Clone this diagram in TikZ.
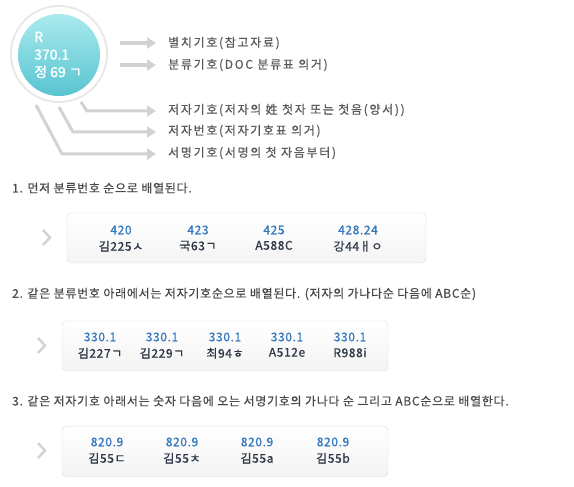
\documentclass[tikz,border=0pt]{standalone}
\usepackage{fontspec}
\setmainfont{Noto Sans CJK KR}
\newfontfamily\krwide[LetterSpace=14,FakeBold=0.6]{Noto Sans CJK KR}
\newfontfamily\krhead[LetterSpace=6,FakeBold=0.4]{Noto Sans CJK KR}
\newfontfamily\krbox[LetterSpace=5,FakeBold=0.8]{Noto Sans CJK KR}
\newfontfamily\krdisc[FakeBold=1.5]{Noto Sans CJK KR}
\usepackage{tikz}
\usetikzlibrary{arrows.meta,positioning,shadings}
\definecolor{txtgray}{RGB}{90,90,90}
\definecolor{numblue}{RGB}{52,120,190}
\definecolor{namedark}{RGB}{45,55,70}
\definecolor{tealtop}{RGB}{170,234,238}
\definecolor{tealbot}{RGB}{88,196,208}
\definecolor{arrgray}{RGB}{210,210,210}

\begin{document}
\begin{tikzpicture}[x=1pt, y=-1pt,
  lbl/.style={anchor=west, inner sep=0pt, font=\krwide\fontsize{12}{14}\selectfont, text=txtgray},
  head/.style={anchor=west, inner sep=0pt, font=\krhead\fontsize{12}{14}\selectfont, text=txtgray!80!black},
  arr/.style={-{Triangle[width=11pt,length=9pt]}, line width=3.5pt, draw=arrgray},
  sorted/.style={draw=gray!30, rounded corners=4pt, top color=white, bottom color=gray!9,
                 minimum width=#1, minimum height=50pt, inner sep=0pt},
  num/.style={inner sep=0pt, font=\krbox\fontsize{12}{14}\selectfont, text=numblue},
  nm/.style={inner sep=0pt, font=\krbox\fontsize{12}{14}\selectfont, text=namedark},
  chev/.style={draw=gray!35, line width=2.5pt}
]
  \useasboundingbox (0,0) rectangle (574,487);

  % call number disc
  \fill[gray!18] (59,54) circle (49);
  \fill[white] (59,54) circle (47);
  \shade[top color=tealtop, bottom color=tealbot] (59,55) circle (41);
  \node[anchor=west, inner sep=0pt, text=white, font=\krdisc\fontsize{14}{17.5}\selectfont, align=left] (callno) at (34,55)
    {R\\370.1\\정 69 ㄱ};

  \coordinate (s1) at (120,43);  \coordinate (e1) at (156,43);
  \coordinate (s2) at (120,65);  \coordinate (e2) at (156,65);
  \coordinate (s3) at (81,102);  \coordinate (k3) at (87,111);  \coordinate (e3) at (156,111);
  \coordinate (s4) at (59,107);  \coordinate (k4) at (73,132);  \coordinate (e4) at (156,132);
  \coordinate (s5) at (36,105);  \coordinate (k5) at (62,154);  \coordinate (e5) at (156,154);

  \draw[arr] (s1) -- (e1);
  \draw[arr] (s2) -- (e2);
  \draw[arr, line width=3pt] (s3) -- (k3) -- (e3);
  \draw[arr, line width=3pt] (s4) -- (k4) -- (e4);
  \draw[arr, line width=3pt] (s5) -- (k5) -- (e5);

  \node[lbl] (sep)   at (168,43)  {별치기호(참고자료)};
  \node[lbl] (cls)   at (168,65)  {분류기호(DOC 분류표 의거)};
  \node[lbl] (auth)  at (168,110) {저자기호(저자의 姓 첫자 또는 첫음(양서))};
  \node[lbl] (authn) at (168,131) {저자번호(저자기호표 의거)};
  \node[lbl] (title) at (168,153) {서명기호(서명의 첫 자음부터)};

  % rule 1
  \node[head] (r1) at (12,188) {1. 먼저 분류번호 순으로 배열된다.};
  \node[sorted=359pt] (box1) at (246.5,238) {};
  \draw[chev] (43,230) -- (50,237.5) -- (43,245);
  \foreach \x/\n/\m [count=\i] in {121/420/김225ㅅ, 198/423/국63ㄱ, 274/425/A588C, 358/428.24/강44ㅐㅇ}{
    \node[num] (a\i) at (\x,230) {\n};
    \node[nm, below=6pt of a\i] (am\i) {\m};
  }

  % rule 2
  \node[head] (r2) at (12,294) {2. 같은 분류번호 아래에서는 저자기호순으로 배열된다. (저자의 가나다순 다음에 ABC순)};
  \node[sorted=326pt] (box2) at (225,346) {};
  \draw[chev] (38,338) -- (45,345.5) -- (38,353);
  \foreach \x/\m [count=\i] in {100/김227ㄱ, 162/김229ㄱ, 225/최94ㅎ, 287/A512e, 350/R988i}{
    \node[num] (b\i) at (\x,337) {330.1};
    \node[nm, below=6pt of b\i] (bm\i) {\m};
  }

  % rule 3
  \node[head] (r3) at (12,401) {3. 같은 저자기호 아래서는 숫자 다음에 오는 서명기호의 가나다 순 그리고 ABC순으로 배열한다.};
  \node[sorted=326pt] (box3) at (225,451.5) {};
  \draw[chev] (38,443) -- (45,450.5) -- (38,458);
  \foreach \x/\m [count=\i] in {107/김55ㄷ, 182/김55ㅊ, 257/김55a, 333/김55b}{
    \node[num] (c\i) at (\x,442) {820.9};
    \node[nm, below=6pt of c\i] (cm\i) {\m};
  }
\end{tikzpicture}
\end{document}
